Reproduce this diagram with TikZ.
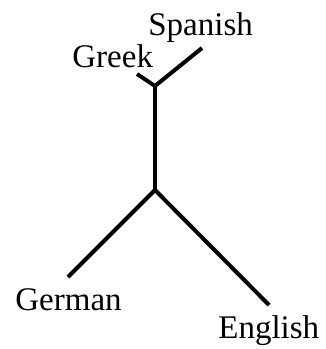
\documentclass[tikz,border=0pt]{standalone}
\usepackage{fontspec}
\setmainfont{Liberation Serif}
\usepackage{tikz}
\usetikzlibrary{positioning}
\tikzset{branch/.style={line width=2pt,draw=black,line cap=butt},lang/.style={anchor=base west,inner sep=0pt,font=\fontsize{16.5}{20}\selectfont}}

\begin{document}
\begin{tikzpicture}[x=0.5pt,y=-0.5pt]
\useasboundingbox (0,0) rectangle (326,349);
\coordinate (top) at (155,86);
\coordinate (bot) at (155,190);
\coordinate (gr) at (137,74);
\coordinate (sp) at (202,48);
\coordinate (ge) at (68,277);
\coordinate (en) at (269,305);
\node[lang] (greek) at (72,67) {Greek};
\node[lang] (spanish) at (148,35) {Spanish};
\node[lang] (german) at (15,310) {German};
\node[lang] (english) at (218,338) {English};
\draw[branch] (gr)--(top)--(sp);
\draw[branch] (top)--(bot);
\draw[branch] (ge)--(bot)--(en);
\end{tikzpicture}
\end{document}
